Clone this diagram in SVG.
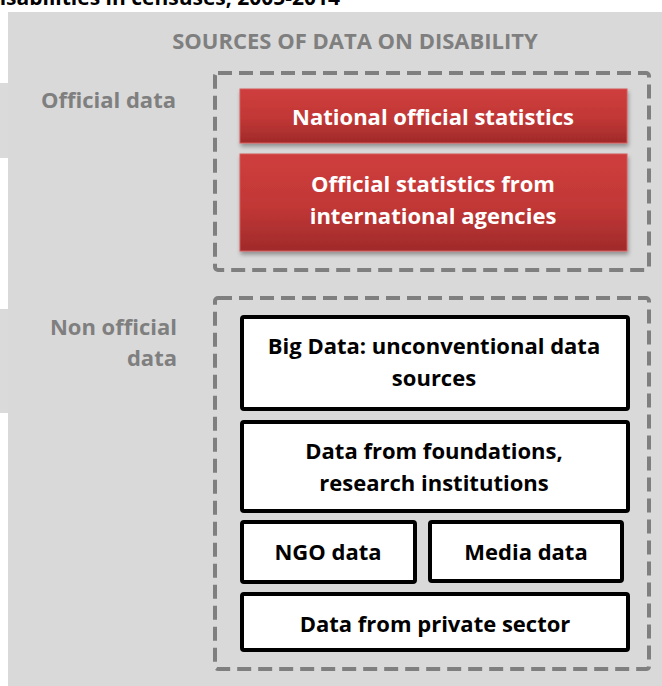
<svg xmlns="http://www.w3.org/2000/svg" width="662" height="686" viewBox="0 0 662 686">
  <style>
    .lbl { font-family: "Open Sans", "Liberation Sans", sans-serif; font-weight: bold; }
    .grey { fill: #7f7f7f; font-size: 22px; }
    .red-t { fill: #ffffff; font-size: 22px; text-anchor: middle; }
    .blk-t { fill: #000000; font-size: 22px; text-anchor: middle; }
    .dash { fill: none; stroke: #7f7f7f; stroke-width: 4; stroke-dasharray: 14 7; }
    .red { fill: url(#redGrad); stroke: #d65a5a; stroke-width: 1; filter: url(#shadow); }
    .box { fill: #ffffff; stroke: #000000; stroke-width: 4; }
  </style>
  <defs>
    <linearGradient id="redGrad" x1="0" y1="0" x2="0" y2="1">
      <stop offset="0" stop-color="#cf3e3d"/>
      <stop offset="0.55" stop-color="#c13736"/>
      <stop offset="1" stop-color="#a02a2a"/>
    </linearGradient>
    <filter id="shadow" x="-5%" y="-10%" width="115%" height="130%">
      <feGaussianBlur in="SourceAlpha" stdDeviation="2"/>
      <feOffset dx="1" dy="3" result="b"/>
      <feComponentTransfer><feFuncA type="linear" slope="0.35"/></feComponentTransfer>
      <feMerge><feMergeNode/><feMergeNode in="SourceGraphic"/></feMerge>
    </filter>
  </defs>

  <rect width="662" height="686" fill="#ffffff"/>

  <!-- caption line above the panel, cut by the top edge -->
  <text class="lbl" x="340" y="5" font-size="21" fill="#000000" text-anchor="end">disabilities in censuses, 2005-2014</text>

  <!-- background panel -->
  <rect x="8" y="12" width="654" height="674" fill="#d9d9d9"/>
  <rect x="0" y="83" width="8" height="75" fill="#dadada"/>
  <rect x="0" y="309" width="8" height="104" fill="#dadada"/>

  <text class="lbl grey" x="355" y="49" text-anchor="middle" font-size="22.5">SOURCES OF DATA ON DISABILITY</text>

  <!-- group labels -->
  <g id="label-official">
    <text class="lbl grey" x="176" y="108" text-anchor="end">Official data</text>
  </g>
  <g id="label-nonofficial">
    <text class="lbl grey" x="177" y="335" text-anchor="end">Non official</text>
    <text class="lbl grey" x="177" y="366" text-anchor="end">data</text>
  </g>

  <!-- dashed containers -->
  <g id="container-official">
    <rect class="dash" x="215" y="73" width="434" height="197" rx="3"/>
  </g>
  <g id="container-nonofficial">
    <rect class="dash" x="215" y="298" width="434" height="371" rx="3"/>
  </g>

  <!-- official sources -->
  <g id="node-national">
    <rect class="red" x="240" y="89" width="387" height="54"/>
    <text class="lbl red-t" x="433" y="125">National official statistics</text>
  </g>
  <g id="node-international">
    <rect class="red" x="240" y="154" width="387" height="97"/>
    <text class="lbl red-t" x="433" y="192">Official statistics from</text>
    <text class="lbl red-t" x="433" y="224">international agencies</text>
  </g>

  <!-- non official sources -->
  <g id="node-bigdata">
    <rect class="box" x="242" y="317" width="386" height="92" rx="2"/>
    <text class="lbl blk-t" x="434" y="354">Big Data: unconventional data</text>
    <text class="lbl blk-t" x="434" y="386">sources</text>
  </g>
  <g id="node-foundations">
    <rect class="box" x="242" y="422" width="386" height="89" rx="2"/>
    <text class="lbl blk-t" x="434" y="459">Data from foundations,</text>
    <text class="lbl blk-t" x="434" y="491">research institutions</text>
  </g>
  <g id="node-ngo">
    <rect class="box" x="242" y="522" width="173" height="60" rx="2"/>
    <text class="lbl blk-t" x="328" y="560">NGO data</text>
  </g>
  <g id="node-media">
    <rect class="box" x="430" y="522" width="192" height="59" rx="2"/>
    <text class="lbl blk-t" x="526" y="560">Media data</text>
  </g>
  <g id="node-private">
    <rect class="box" x="242" y="594" width="386" height="56" rx="2"/>
    <text class="lbl blk-t" x="435" y="632">Data from private sector</text>
  </g>

  <g id="connectors"/>
</svg>
